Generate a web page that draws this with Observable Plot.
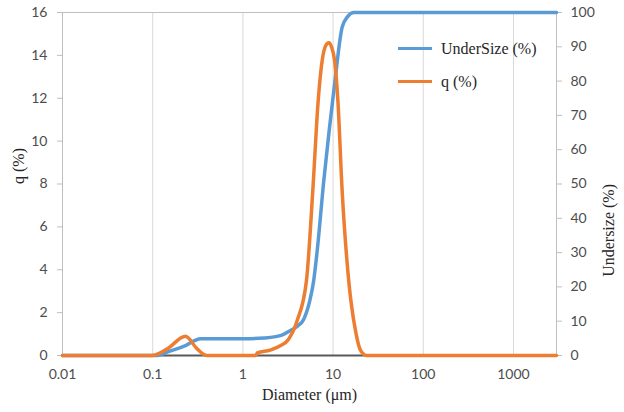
<!DOCTYPE html>
<html>
<head>
<meta charset="utf-8">
<script src="https://cdn.jsdelivr.net/npm/d3@7"></script>
<script src="https://cdn.jsdelivr.net/npm/@observablehq/plot@0.6"></script>
<style>
  html, body { margin: 0; padding: 0; background: white; }
  #wrap { position: relative; width: 624px; height: 412px; }
  #legend { position: absolute; left: 398px; top: 32px; font-family: "Liberation Serif", serif; font-size: 16px; color: #262626; }
  .item { display: flex; align-items: center; height: 33px; }
  .sw { width: 34px; height: 3.5px; margin-right: 9px; }
</style>
</head>
<body>
<div id="wrap"></div>
<script>
// q (%) — frequency distribution (left axis)
const qDiameter = [0.01, 0.0986, 0.145, 0.231, 0.311, 0.40, 1.38, 1.45, 2.0, 2.6, 3.2, 4.0, 5.07, 5.96, 6.84, 7.57, 8.3, 8.96, 9.6, 10.4, 11.3, 12.6, 14.9, 17.7, 20.1, 23.5, 3000];
const qValue    = [0,    0,      0.31,  0.9,   0.31,  0,    0,    0.12, 0.25, 0.45, 0.75, 1.63, 3.5,  7.7,  11.9, 13.76, 14.46, 14.59, 14.4, 13.76, 11.9, 7.7, 3.5,  1.17, 0.25, 0,    0];

// UnderSize (%) — cumulative (right axis)
const uDiameter = [0.01, 0.112, 0.145, 0.231, 0.34, 1.0, 1.5, 2.6, 3.37, 4.0, 4.73, 5.52, 6.1, 6.67, 7.89, 9.0, 10.6, 12.6, 14.5, 17, 3000];
const uValue    = [0,    0,     1.0,   2.9,   4.9,  4.9, 5.0, 5.8, 7.3,  8.5, 10.6, 16,   21.9, 30.6, 51,   65,  81.1, 95.7, 98.8, 100, 100];

// axis ticks
const xTicks = [0.01, 0.1, 1, 10, 100, 1000];
const xTickLabels = ["0.01", "0.1", "1", "10", "100", "1000"];
const qTicks = [0, 2, 4, 6, 8, 10, 12, 14, 16];
const uTicks = [0, 10, 20, 30, 40, 50, 60, 70, 80, 90, 100];

const qMax = 16, uMax = 100, k = qMax / uMax;

const qData = qDiameter.map((d, i) => ({d, v: qValue[i]}));
const uData = uDiameter.map((d, i) => ({d, v: uValue[i] * k}));

const serif = "Liberation Serif";

const chart = Plot.plot({
  width: 624, height: 412,
  marginLeft: 62, marginRight: 68, marginTop: 12, marginBottom: 57,
  x: {type: "log", domain: [0.01, 3000]},
  y: {domain: [0, qMax]},
  style: {fontFamily: "Lato", fontSize: "14px", color: "#595959", background: "white"},
  marks: [
    Plot.ruleX(xTicks.slice(1), {stroke: "#d9d9d9", strokeWidth: 1}),
    Plot.ruleY([qMax], {stroke: "#bfbfbf"}),
    Plot.ruleX([0.01], {stroke: "#bfbfbf"}),
    Plot.ruleX([3000], {stroke: "#bfbfbf"}),
    Plot.ruleY([0], {stroke: "#595959", strokeWidth: 2}),
    Plot.axisX({ticks: xTicks, tickFormat: d => xTickLabels[xTicks.indexOf(d)], tickSize: 0, tickPadding: 14, label: null, fill: "#4d4d4d"}),
    Plot.axisY({ticks: qTicks, tickSize: 5, tickPadding: 10, label: null, stroke: "#bfbfbf", fill: "#4d4d4d"}),
    Plot.axisY({anchor: "right", ticks: uTicks.map(v => v * k), tickFormat: d => String(Math.round(d / k)), tickSize: 5, tickPadding: 9, label: null, stroke: "#bfbfbf", fill: "#4d4d4d"}),
    Plot.line(uData, {x: "d", y: "v", stroke: "#5B9BD5", strokeWidth: 3.5, curve: "monotone-x"}),
    Plot.line(qData, {x: "d", y: "v", stroke: "#ED7D31", strokeWidth: 3.5, curve: "monotone-x"}),
    Plot.text(["q (%)"], {frameAnchor: "left", dx: -44, rotate: -90, fontFamily: serif, fontSize: 16, fill: "#262626"}),
    Plot.text(["Undersize (%)"], {frameAnchor: "right", dx: 52, rotate: -90, fontFamily: serif, fontSize: 16, fill: "#262626"}),
    Plot.text(["Diameter (μm)"], {frameAnchor: "bottom", dy: 44, fontFamily: serif, fontSize: 16, fill: "#262626"})
  ]
});

const wrap = document.getElementById("wrap");
wrap.appendChild(chart);

const legendItems = [
  {label: "UnderSize (%)", color: "#5B9BD5"},
  {label: "q (%)", color: "#ED7D31"}
];
const legend = document.createElement("div");
legend.id = "legend";
for (const it of legendItems) {
  const row = document.createElement("div");
  row.className = "item";
  const sw = document.createElement("div");
  sw.className = "sw";
  sw.style.background = it.color;
  const t = document.createElement("span");
  t.textContent = it.label;
  row.appendChild(sw); row.appendChild(t);
  legend.appendChild(row);
}
wrap.appendChild(legend);
</script>
</body>
</html>
